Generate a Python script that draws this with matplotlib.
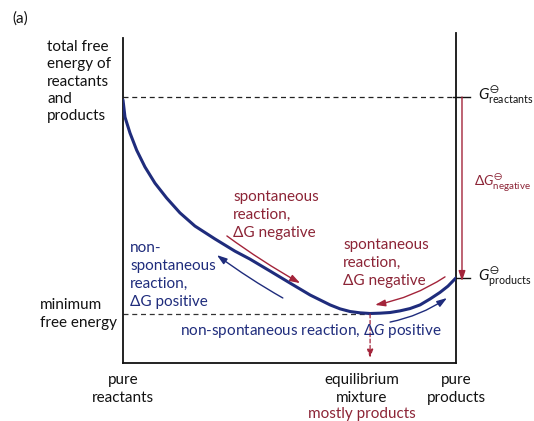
import matplotlib
matplotlib.use("Agg")
from matplotlib import pyplot as plt

plt.rcParams['font.family'] = ['Lato', 'DejaVu Sans']
plt.rcParams['mathtext.fontset'] = 'custom'
plt.rcParams['mathtext.rm'] = 'Lato'
plt.rcParams['mathtext.it'] = 'Lato:italic'
plt.rcParams['mathtext.fallback'] = 'stix'

# reaction progress (0 = pure reactants, 1 = pure products) and total free energy
progress = [0.0, 0.006, 0.021, 0.041, 0.066, 0.096, 0.131, 0.171, 0.216, 0.276,
            0.336, 0.381, 0.441, 0.502, 0.562, 0.592, 0.622, 0.652, 0.682, 0.712,
            0.742, 0.772, 0.802, 0.832, 0.862, 0.892, 0.922, 0.952, 0.976, 1.0]
energy = [0.797, 0.745, 0.697, 0.645, 0.594, 0.545, 0.500, 0.455, 0.415, 0.376,
          0.339, 0.315, 0.279, 0.242, 0.206, 0.191, 0.176, 0.164, 0.156, 0.152,
          0.150, 0.151, 0.153, 0.158, 0.165, 0.176, 0.194, 0.214, 0.233, 0.258]

G_reactants = 0.806
G_products = 0.258
G_min = 0.148
x_eq = 0.742

BLUE = '#1f2c7c'
RED = '#8c2436'
ARROW_RED = '#a3243a'

W, H = 534, 421
fig = plt.figure(figsize=(W / 100, H / 100), dpi=100)
ax = fig.add_axes([123 / W, (H - 363) / H, 333 / W, 330 / H])
ax.set_xlim(0, 1)
ax.set_ylim(0, 1)
ax.set_xticks([])
ax.set_yticks([])
ax.spines['top'].set_visible(False)
ax.spines['left'].set_bounds(0, 0.985)
for s in ['left', 'right', 'bottom']:
    ax.spines[s].set_linewidth(1.3)
    ax.spines[s].set_color('#111111')
ax.patch.set_alpha(0)


def px(x, y):
    return (x / W, 1 - y / H)


# curve
ax.plot(progress, energy, color=BLUE, lw=2.2, solid_capstyle='round',
        solid_joinstyle='round', zorder=3)

# dashed levels
ax.hlines(G_reactants, 0, 0.99, colors='#222222', linestyles=(0, (4, 3)), lw=0.9)
ax.hlines(G_min, 0, x_eq, colors='#333333', linestyles=(0, (4, 3)), lw=0.9)
ax.plot([0.99, 1.042], [G_reactants] * 2, color='#111111', lw=1.0, clip_on=False)
ax.plot([1.0, 1.042], [G_products] * 2, color='#111111', lw=1.0, clip_on=False)

# equilibrium marker
ax.annotate('', xy=(x_eq, 0.015), xytext=(x_eq, G_min),
            arrowprops=dict(arrowstyle='-|>,head_length=0.5,head_width=0.18',
                            color=ARROW_RED, lw=0.9, linestyle=(0, (3, 2)),
                            shrinkA=0, shrinkB=0))

# delta G standard arrow
ax.annotate('', xy=(1.018, G_products - 0.01), xytext=(1.018, G_reactants),
            arrowprops=dict(arrowstyle='-|>,head_length=0.6,head_width=0.2',
                            color=ARROW_RED, lw=1.0, shrinkA=0, shrinkB=0),
            annotation_clip=False)


# arrows along the curve
def arrow(p0, p1, color, rad=0.0):
    ax.annotate('', xy=p1, xytext=p0,
                arrowprops=dict(arrowstyle='-|>,head_length=0.6,head_width=0.2',
                                color=color, lw=1.0, shrinkA=0, shrinkB=0,
                                connectionstyle=f'arc3,rad={rad}'))


arrow((0.312, 0.385), (0.532, 0.242), ARROW_RED, 0.03)
arrow((0.480, 0.197), (0.282, 0.327), BLUE, -0.03)
arrow((0.967, 0.261), (0.757, 0.176), ARROW_RED, -0.1)
arrow((0.802, 0.124), (0.973, 0.197), BLUE, 0.1)

fs = 11
ls = 1.36
fig.text(*px(12, 19), '(a)', fontsize=fs, va='center', color='#111111')
fig.text(*px(47, 40), 'total free\nenergy of\nreactants\nand\nproducts', fontsize=fs,
         va='top', ha='left', linespacing=1.3, color='#111111')
fig.text(*px(40, 298), 'minimum\nfree energy', fontsize=fs, va='top', ha='left',
         linespacing=ls, color='#111111')

fig.text(*px(130, 241), 'non-\nspontaneous\nreaction,\nΔG positive', fontsize=fs,
         va='top', ha='left', linespacing=ls, color=BLUE)
fig.text(*px(233, 190), 'spontaneous\nreaction,\nΔG negative', fontsize=fs,
         va='top', ha='left', linespacing=ls, color=RED)
fig.text(*px(343, 238), 'spontaneous\nreaction,\nΔG negative', fontsize=fs,
         va='top', ha='left', linespacing=ls, color=RED)
fig.text(*px(180, 331), r'non-spontaneous reaction, $\Delta G$ positive', fontsize=fs,
         va='center', ha='left', color=BLUE)

fig.text(*px(123, 373), 'pure\nreactants', fontsize=fs, va='top', ha='center',
         linespacing=ls, color='#111111')
fig.text(*px(362, 373), 'equilibrium\nmixture', fontsize=fs, va='top', ha='center',
         linespacing=ls, color='#111111')
fig.text(*px(362, 414), 'mostly products', fontsize=fs, va='center', ha='center',
         color=RED)
fig.text(*px(456, 373), 'pure\nproducts', fontsize=fs, va='top', ha='center',
         linespacing=ls, color='#111111')

fig.text(*px(478, 96), r'$G^{\ominus}_{\mathrm{reactants}}$', fontsize=11,
         va='center', ha='left', color='#111111')
fig.text(*px(478, 278), r'$G^{\ominus}_{\mathrm{products}}$', fontsize=11,
         va='center', ha='left', color='#111111')
fig.text(*px(474, 183), r'$\Delta G^{\ominus}_{\mathrm{negative}}$', fontsize=10,
         va='center', ha='left', color=RED)

fig.savefig('out.png', dpi=100)
